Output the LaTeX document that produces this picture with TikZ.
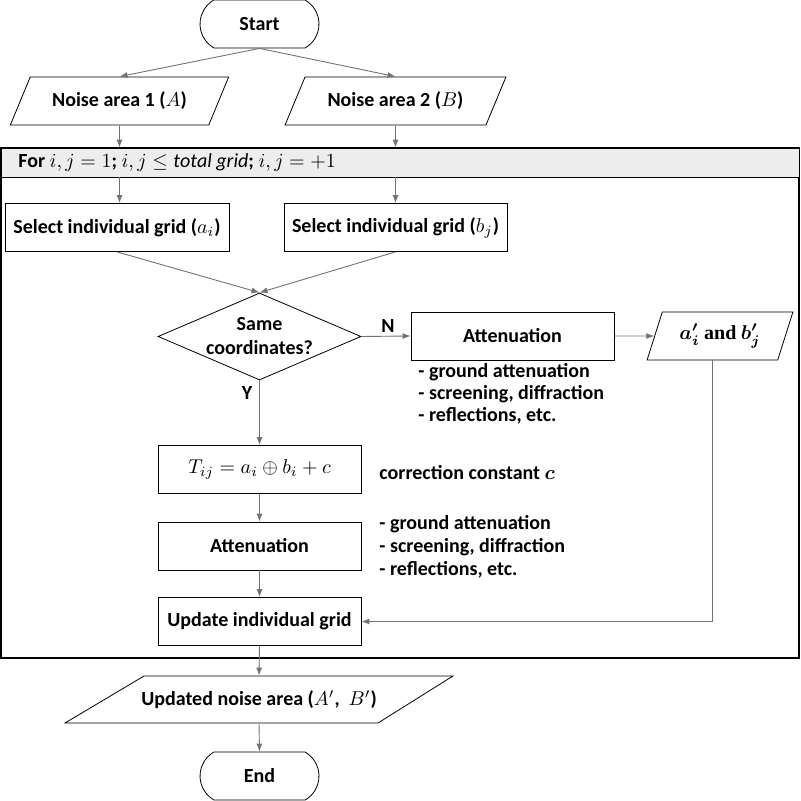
\documentclass[tikz,border=0pt]{standalone}
\usepackage{amsmath,amssymb}
\usepackage{fontspec}
\setmainfont{Carlito}
\newfontfamily\andfont{Liberation Serif}
\usetikzlibrary{shapes.geometric,shapes.misc,arrows.meta}

\begin{document}
\begin{tikzpicture}
[x=0.5pt, y=-0.5pt,
  every node/.style={font=\fontsize{10}{11}\selectfont\bfseries},
  termdecorate/.style={shape=rounded rectangle, rounded rectangle arc length=120,
    draw, thin, fill=white, minimum width=59.5pt, minimum height=24pt, inner sep=0pt},
  iodecorate/.style={shape=trapezium, trapezium stretches=true, draw, thin,
    fill=white, minimum height=24pt, inner sep=0pt},
  boxdecorate/.style={shape=rectangle, draw, thin, fill=white,
    minimum width=101.5pt, minimum height=24pt, inner sep=0pt},
  notedecorate/.style={align=left, anchor=west, inner sep=0pt},
  linedecorate/.style={-{Latex[length=4pt,width=3pt]}, draw=black!55, line width=0.45pt}]
\useasboundingbox (0,0) rectangle (800,801);
%% loop frame
\node (loop) at (400,403) [draw, line width=0.9pt, minimum width=399pt,
  minimum height=255pt, inner sep=0pt] {};
\node (head) at (400,162.5) [draw, thin, fill=black!7, minimum width=399pt,
  minimum height=14.5pt, inner sep=0pt] {};
\node (headtext) at (18,163) [anchor=west, inner sep=0pt]
  {For $i,j=1$; $i,j\le \mathit{total\ grid}$; $i,j=+1$};
%% nodes or vertices
\node (start) at (259.5,24) [termdecorate] {Start};
\node (stop) at (259.5,776) [termdecorate] {End};
\node (inA) at (119.5,101) [iodecorate, trapezium left angle=50,
  trapezium right angle=130, minimum width=109.5pt] {Noise area 1 ($A$)};
\node (inB) at (395.5,101) [iodecorate, trapezium left angle=50,
  trapezium right angle=130, minimum width=111pt] {Noise area 2 ($B$)};
\node (ab) at (720,336) [iodecorate, trapezium left angle=66,
  trapezium right angle=114, minimum width=73pt,
  font=\fontsize{10}{11}\selectfont\bfseries\boldmath]
  {$a^{\prime}_i$ \textbf{\andfont and} $b^{\prime}_j$};
% output parallelogram: outline drawn round the text node
\node (out) at (259,699.5) [minimum width=194pt, minimum height=23.5pt,
  inner sep=0pt] {Updated noise area ($A^{\prime}$,\ \ $B^{\prime}$)};
\draw[thin] ([shift={(-194,23.5)}]out.center) -- ([shift={(119,23.5)}]out.center)
  -- ([shift={(194,-23.5)}]out.center) -- ([shift={(-115,-23.5)}]out.center) -- cycle;
\node (same) at (259.5,336.5) [shape=diamond, aspect=2.33, draw, thin, fill=white,
  minimum width=101.5pt, minimum height=43.5pt, inner sep=0pt, align=center]
  {Same\\[1pt]coordinates?};
\foreach \nodename/\x/\y/\w/\txt in {sela/117/227.5/112/{Select individual grid ($a_i$)},
  selb/395.5/227.5/111.5/{Select individual grid ($b_j$)},
  atten/512.5/336/101.5/{Attenuation}, tsum/259.5/469.5/101.5/{$T_{ij}=a_i\oplus b_i+c$},
  attenb/259.5/546/101.5/{Attenuation}, upd/259.5/621.5/101.5/{Update individual grid}}
{
  \node (\nodename) at (\x,\y) [boxdecorate, minimum width=\w pt] {\txt};
}
%% notes and labels
\node (notea) at (418,393.5) [notedecorate]
  {- ground attenuation\\- screening, diffraction\\- reflections, etc.};
\node (noteb) at (379,547) [notedecorate, font=\fontsize{10}{11.5}\selectfont\bfseries]
  {- ground attenuation\\- screening, diffraction\\- reflections, etc.};
\node (notec) at (379,473) [notedecorate,
  font=\fontsize{10}{11}\selectfont\bfseries\boldmath] {correction constant $c$};
\node (labn) at (388,326) {N};
\node (laby) at (247,393) {Y};
%% edges or lines
\path
\foreach \startnode/\endnode in {start.south/inA.north, start.south/inB.north,
  inA.south/inA |- head.north, inB.south/inB |- head.north,
  inA |- head.south/inA |- sela.north, inB |- head.south/inB |- selb.north,
  sela.south/same.north, selb.south/same.north, same.east/atten.west,
  atten.east/ab.west, same.south/tsum.north, tsum.south/attenb.north,
  attenb.south/upd.north, upd.south/out.north, out.south/stop.north}
{
  (\startnode) edge[linedecorate] (\endnode)
};
\draw[linedecorate] (ab.bottom side) |- (upd.east);
\end{tikzpicture}
\end{document}
